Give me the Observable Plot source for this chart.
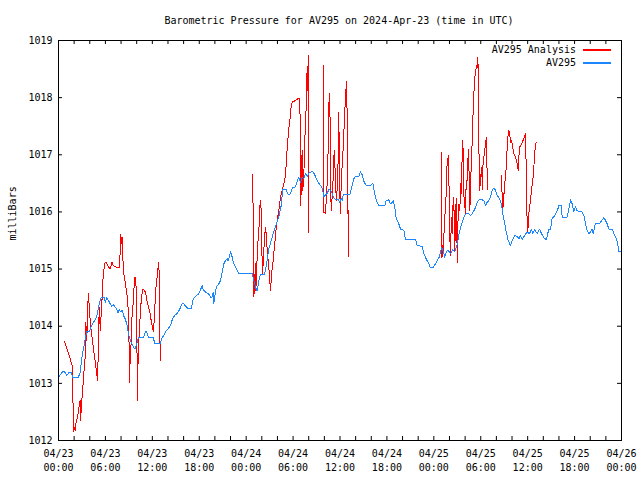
<!DOCTYPE html>
<html>
<head>
<meta charset="utf-8">
<script src="https://cdn.jsdelivr.net/npm/d3@7"></script>
<script src="https://cdn.jsdelivr.net/npm/@observablehq/plot@0.6"></script>
<style>
  body { margin: 0; background: #fff; }
  #title {
    width: 640px; height: 30px; box-sizing: border-box;
    padding-top: 15px; padding-left: 38px;
    font: 10px "DejaVu Sans Mono", monospace; line-height: 12px;
    text-align: center; color: #000; white-space: pre;
  }
  #wrap { position: relative; width: 640px; height: 450px; }
  #legend { position: absolute; left: 0; top: 0; pointer-events: none; }
</style>
</head>
<body>
<div id="title">Barometric Pressure for AV295 on 2024-Apr-23 (time in UTC)</div>
<div id="wrap"><div id="chart"></div></div>
<script>
// Hours since 2024-04-23 00:00 UTC
const blueHours = [0.00,0.51,0.77,1.06,1.28,1.50,1.66,1.79,2.56,2.78,2.98,3.20,3.41,3.62,3.96,4.13,4.48,4.69,4.90,5.12,
  5.33,5.46,5.88,5.97,6.18,6.39,6.61,6.82,7.03,7.25,7.46,7.58,7.76,7.97,8.18,8.31,8.53,8.73,8.86,9.04,
  9.30,9.59,9.81,10.01,10.23,10.87,11.09,11.29,11.51,12.15,12.28,13.01,13.26,13.43,13.68,14.32,14.54,14.84,15.18,15.51,
  15.82,16.02,16.46,16.97,17.23,17.52,17.94,18.16,18.38,18.51,18.80,19.22,19.44,19.66,19.78,19.86,19.95,20.17,20.50,20.72,
  20.94,21.14,21.36,21.57,21.70,21.91,22.00,22.21,22.42,22.76,23.06,24.77,25.19,25.41,25.62,25.83,26.35,26.60,26.90,27.20,
  27.53,27.88,28.17,28.48,28.69,29.16,29.25,29.45,29.67,29.89,30.22,30.53,30.73,30.95,31.17,31.37,31.59,31.81,32.01,32.32,
  32.57,32.87,33.16,33.51,33.72,33.93,34.15,34.36,34.57,34.79,35.00,35.21,35.42,35.72,35.97,36.15,36.28,36.41,37.25,37.43,
  37.77,37.98,38.40,38.62,38.84,39.04,39.35,39.90,40.20,40.32,40.54,40.76,40.96,41.73,41.91,42.24,42.46,42.68,42.80,43.01,
  43.19,43.52,43.74,44.16,44.38,45.66,45.87,46.51,46.72,47.02,47.36,47.57,47.87,48.21,48.56,48.72,48.98,49.15,49.40,49.58,
  49.84,50.13,50.43,50.68,50.99,51.19,51.41,51.71,51.96,52.14,52.40,52.69,52.91,53.24,53.55,53.75,54.19,54.39,54.61,54.82,
  55.03,55.25,55.46,55.67,55.89,56.10,56.40,56.65,56.82,57.08,57.26,57.51,57.81,58.02,58.36,58.66,58.87,59.08,59.30,59.63,
  59.94,60.23,60.49,60.66,60.91,61.22,61.51,61.77,62.06,62.41,62.57,62.70,62.92,63.14,63.43,63.69,63.86,63.99,64.29,64.42,
  65.06,65.19,65.39,65.48,65.70,65.90,66.12,66.25,66.54,66.97,67.18,67.40,67.61,67.82,68.04,68.25,68.38,68.55,68.68,69.23,
  69.53,69.74,69.96,70.17,70.38,70.81,71.02,71.23,71.45,71.66,72.00];
const bluePressure = [1013.11,1013.20,1013.20,1013.14,1013.18,1013.20,1013.18,1013.11,1013.11,1013.20,1013.44,1013.61,1013.77,1013.91,1013.91,1013.98,1014.07,1014.11,1014.17,1014.33,
  1014.45,1014.51,1014.51,1014.42,1014.50,1014.45,1014.39,1014.35,1014.38,1014.33,1014.30,1014.23,1014.29,1014.25,1014.28,1014.19,1014.13,1014.04,1013.93,1013.81,
  1013.72,1013.63,1013.60,1013.69,1013.80,1013.80,1013.90,1013.90,1013.81,1013.81,1013.69,1013.69,1013.81,1013.82,1013.90,1014.01,1014.11,1014.19,1014.22,1014.30,
  1014.40,1014.39,1014.32,1014.30,1014.48,1014.52,1014.57,1014.64,1014.71,1014.64,1014.60,1014.56,1014.51,1014.51,1014.60,1014.40,1014.48,1014.68,1014.74,1014.80,
  1014.95,1015.09,1015.15,1015.18,1015.14,1015.24,1015.30,1015.21,1015.09,1015.00,1014.92,1014.92,1014.68,1014.62,1014.80,1014.90,1014.90,1015.09,1015.35,1015.50,
  1015.65,1015.79,1015.91,1016.11,1016.40,1016.40,1016.32,1016.30,1016.32,1016.42,1016.42,1016.53,1016.61,1016.52,1016.60,1016.58,1016.67,1016.62,1016.68,1016.70,
  1016.70,1016.62,1016.53,1016.46,1016.42,1016.27,1016.30,1016.32,1016.39,1016.38,1016.32,1016.25,1016.22,1016.22,1016.17,1016.23,1016.20,1016.30,1016.30,1016.39,
  1016.58,1016.62,1016.62,1016.70,1016.65,1016.54,1016.46,1016.46,1016.50,1016.40,1016.25,1016.17,1016.11,1016.11,1016.20,1016.21,1016.14,1016.17,1016.20,1016.08,
  1015.88,1015.79,1015.70,1015.68,1015.52,1015.52,1015.41,1015.40,1015.27,1015.18,1015.09,1015.02,1015.02,1015.09,1015.19,1015.21,1015.38,1015.33,1015.21,1015.30,
  1015.33,1015.27,1015.34,1015.30,1015.44,1015.59,1015.73,1015.85,1015.94,1015.97,1015.97,1015.94,1015.97,1016.05,1016.17,1016.21,1016.21,1016.20,1016.11,1016.17,
  1016.20,1016.26,1016.38,1016.42,1016.38,1016.29,1016.23,1016.14,1015.97,1015.79,1015.65,1015.50,1015.41,1015.50,1015.59,1015.57,1015.53,1015.59,1015.52,1015.59,
  1015.65,1015.62,1015.69,1015.62,1015.69,1015.62,1015.70,1015.62,1015.55,1015.51,1015.62,1015.70,1015.70,1015.90,1015.92,1016.00,1016.05,1016.11,1016.11,1015.91,
  1015.91,1016.00,1016.14,1016.21,1016.14,1016.01,1016.10,1016.03,1016.01,1016.00,1015.94,1015.79,1015.68,1015.62,1015.65,1015.70,1015.62,1015.73,1015.80,1015.80,
  1015.86,1015.90,1015.85,1015.79,1015.70,1015.70,1015.62,1015.57,1015.48,1015.31,1015.31];

// Analysis series (null = no data, line is broken)
const redHours = [0.77,1.28,1.83,1.85,1.92,2.05,2.13,2.21,2.47,2.69,2.77,2.81,2.90,2.98,3.07,3.20,3.41,3.49,3.62,3.75,
  3.84,3.92,4.05,4.18,4.48,4.77,4.99,5.07,5.16,5.25,5.33,5.41,5.54,5.67,5.88,6.05,6.30,6.61,6.82,7.03,
  7.25,7.58,7.76,7.89,7.97,8.06,8.15,8.22,8.35,8.53,8.66,8.82,8.91,8.99,9.04,9.08,9.17,9.30,9.37,9.59,
  9.72,9.81,9.89,9.98,10.06,10.10,10.14,10.23,10.36,10.45,10.58,10.74,11.00,11.16,11.29,11.51,11.73,11.85,12.02,12.15,
  12.28,12.44,12.57,12.70,12.79,12.88,13.01, 18.00,
  24.85,24.90,24.98,25.07,25.19,25.23,25.32,25.41,25.49,25.62,25.71,25.74,25.83,25.92,26.00,26.05,26.18,26.26,26.35,26.47,
  26.60,26.69,26.77,26.90,27.02,27.11,27.20,27.33,27.46,27.53,27.66,27.79,27.97,28.17,28.39,28.61,28.81,29.03,29.12,29.25,
  29.45,29.58,29.67,29.80,29.89,30.31,30.60,30.86,30.95,30.99,31.08,31.17,31.24,31.37,31.46,31.59,31.68,31.75,31.84,31.94,
  31.97,32.01, 33.00,
  33.85,33.88,34.15,34.28,34.36,34.49,34.57,34.66,34.75,34.79,34.88,35.00,35.13,35.21,35.30,35.42,35.55,35.72,35.85,35.94,
  36.06,36.15,36.28,36.41,36.58,36.70,36.83,36.92,37.00,37.05,37.13, 43.00,
  48.94,48.98,49.07,49.15,49.28,49.40,49.49,49.58,49.66,49.75,49.84,49.92,50.01,50.10,50.18,50.26,50.35,50.43,50.52,50.61,
  50.68,50.77,50.86,50.94,50.99,51.03,51.12,51.20,51.33,51.41,51.50,51.58,51.71,51.80,51.88,51.96,52.05,52.14,52.27,52.35,
  52.44,52.53,52.61,52.69,52.82,52.91,53.00,53.12,53.25,53.34,53.43,53.55,53.64,53.69,53.77,53.86,53.99,54.12,54.21,54.29,
  54.42,54.63,54.72,54.76,54.85, 55.80,
  56.65,56.74,56.82,56.95,57.04,57.17,57.29,57.38,57.46,57.59,57.72,57.81,57.94,58.10,58.23,58.45,58.66,58.79,58.87,58.96,
  59.21,59.51,59.72,59.81,59.94,60.02,60.11,60.23,60.36,60.49,60.66,60.79,60.91,61.09];
const redPressure = [1013.73,1013.52,1013.28,1012.70,1012.15,1012.23,1012.18,1012.29,1012.44,1012.64,1012.70,1012.35,1012.53,1012.70,1012.82,1013.11,1013.46,1014.07,1013.75,1014.39,
  1014.57,1014.36,1014.10,1013.92,1013.60,1013.30,1013.05,1013.46,1014.10,1014.33,1013.92,1014.10,1014.39,1014.80,1015.09,1015.12,1015.06,1015.00,1015.12,1015.06,
  1015.04,1015.02,1015.03,1015.30,1015.61,1015.44,1015.56,1015.21,1014.92,1014.77,1014.65,1014.48,1014.30,1014.04,1013.46,1013.02,1013.46,1013.72,1014.10,1014.48,
  1014.86,1014.74,1014.86,1014.28,1013.28,1012.70,1013.22,1013.60,1013.98,1014.19,1014.45,1014.64,1014.63,1014.57,1014.45,1014.33,1014.22,1014.10,1013.98,1013.90,
  1014.22,1014.65,1014.80,1014.98,1015.12,1014.92,1013.40, null,
  1016.66,1015.62,1014.51,1014.74,1015.09,1014.63,1014.86,1015.24,1015.44,1015.68,1015.91,1016.08,1016.20,1016.03,1015.56,1014.92,1015.09,1015.33,1015.56,1015.73,
  1015.56,1015.33,1015.21,1015.03,1014.80,1014.63,1014.80,1015.03,1015.15,1015.27,1015.44,1015.65,1015.85,1016.02,1016.26,1016.38,1016.49,1016.64,1016.84,1017.13,
  1017.45,1017.57,1017.75,1017.89,1017.92,1017.95,1017.98,1017.99,1017.08,1016.11,1016.78,1017.08,1016.38,1016.61,1017.08,1017.60,1017.83,1018.42,1018.13,1018.74,
  1018.36,1015.63, null,
  1018.56,1016.00,1015.97,1016.32,1016.49,1017.13,1017.86,1018.07,1017.48,1016.49,1016.03,1016.26,1016.61,1016.96,1017.08,1016.49,1016.20,1016.61,1017.75,1016.49,
  1015.97,1016.49,1016.84,1017.13,1017.66,1018.01,1018.28,1017.66,1015.97,1016.03,1015.21, null,
  1017.05,1015.21,1015.41,1015.21,1015.56,1015.91,1016.08,1016.32,1016.78,1016.84,1016.99,1016.61,1015.91,1015.24,1015.56,1015.91,1015.62,1016.08,1016.26,1015.91,
  1015.33,1015.85,1016.23,1015.79,1015.12,1015.68,1015.91,1016.14,1016.03,1016.49,1016.32,1016.78,1017.25,1016.73,1016.08,1016.26,1015.97,1016.55,1016.55,1016.90,
  1017.09,1016.52,1016.03,1016.49,1016.90,1017.25,1017.66,1018.07,1018.36,1018.42,1018.56,1018.53,1018.70,1018.24,1017.08,1016.38,1016.61,1016.78,1016.40,1016.84,
  1016.99,1017.22,1017.31,1017.08,1016.40, null,
  1016.64,1016.26,1016.05,1016.26,1016.49,1016.61,1016.84,1017.13,1017.31,1017.43,1017.34,1017.22,1017.25,1017.13,1017.02,1016.96,1016.84,1016.73,1016.96,1017.13,
  1017.19,1017.28,1017.37,1016.78,1015.73,1015.65,1015.91,1016.08,1016.20,1016.38,1016.55,1016.78,1017.05,1017.22];

const xTickHours = [0, 6, 12, 18, 24, 30, 36, 42, 48, 54, 60, 66, 72];
const xTickLabels = ["04/23\n00:00","04/23\n06:00","04/23\n12:00","04/23\n18:00","04/24\n00:00","04/24\n06:00",
  "04/24\n12:00","04/24\n18:00","04/25\n00:00","04/25\n06:00","04/25\n12:00","04/25\n18:00","04/26\n00:00"];
const xMinorHours = [0,2,4,6,8,10,12,14,16,18,20,22,24,26,28,30,32,34,36,38,40,42,44,46,48,50,52,54,56,58,60,62,64,66,68,70,72];
const yTicks = [1012, 1013, 1014, 1015, 1016, 1017, 1018, 1019];
const seriesNames = ["AV295 Analysis", "AV295"];
const seriesColors = ["#ff0000", "#1c86ff"];

const blue = blueHours.map((h, i) => ({h, p: bluePressure[i]}));
const red = redHours.map((h, i) => ({h, p: redPressure[i]}));

const FONT = "DejaVu Sans Mono, monospace";
const W = 640, H = 450, ML = 58, MR = 19, MT = 10, MB = 40;

const chart = Plot.plot({
  width: W,
  height: H,
  marginLeft: ML,
  marginRight: MR,
  marginTop: MT,
  marginBottom: MB,
  style: {fontFamily: FONT, fontSize: "10px", color: "black", background: "white"},
  x: {domain: [0, 72], axis: null},
  y: {domain: [1012, 1019], axis: null},
  marks: [
    Plot.line(red, {x: "h", y: "p", stroke: seriesColors[0], strokeWidth: 1, shapeRendering: "crispEdges"}),
    Plot.line(blue, {x: "h", y: "p", stroke: seriesColors[1], strokeWidth: 1, shapeRendering: "crispEdges"}),
    Plot.frame({stroke: "black"}),
    Plot.tickX(xMinorHours, {x: d => d, insetTop: 396, stroke: "black"}),
    Plot.tickX(xMinorHours, {x: d => d, insetBottom: 396, stroke: "black"}),
    Plot.tickY(yTicks, {y: d => d, insetRight: 559, stroke: "black"}),
    Plot.tickY(yTicks, {y: d => d, insetLeft: 559, stroke: "black"}),
    Plot.axisX(xTickHours, {anchor: "bottom", label: null, tickSize: 0, tickPadding: 7,
      tickFormat: d => xTickLabels[xTickHours.indexOf(d)], lineHeight: 1.4, fontSize: 10}),
    Plot.axisY(yTicks, {anchor: "left", label: null, tickSize: 0, tickPadding: 6, tickFormat: d => String(d), fontSize: 10}),
    Plot.text(["milliBars"], {text: d => d, frameAnchor: "left", dx: -46, rotate: -90, fontSize: 10})
  ]
});
document.getElementById("chart").appendChild(chart);

// Legend (top-right, inside the frame, like gnuplot's key)
const legend = d3.select("#wrap").append("svg")
  .attr("id", "legend").attr("width", W).attr("height", H)
  .attr("font-family", FONT).attr("font-size", 10);
const right = W - MR;
const rows = legend.selectAll("g").data(seriesNames).join("g")
  .attr("transform", (d, i) => `translate(0,${MT + 10 + i * 13})`);
rows.append("text").attr("x", right - 45).attr("dy", "0.32em")
  .attr("text-anchor", "end").attr("fill", "#000").text(d => d);
rows.append("rect").attr("x", right - 38).attr("y", -1).attr("width", 28).attr("height", 2)
  .attr("fill", (d, i) => seriesColors[seriesNames.indexOf(d)]);
</script>
</body>
</html>
